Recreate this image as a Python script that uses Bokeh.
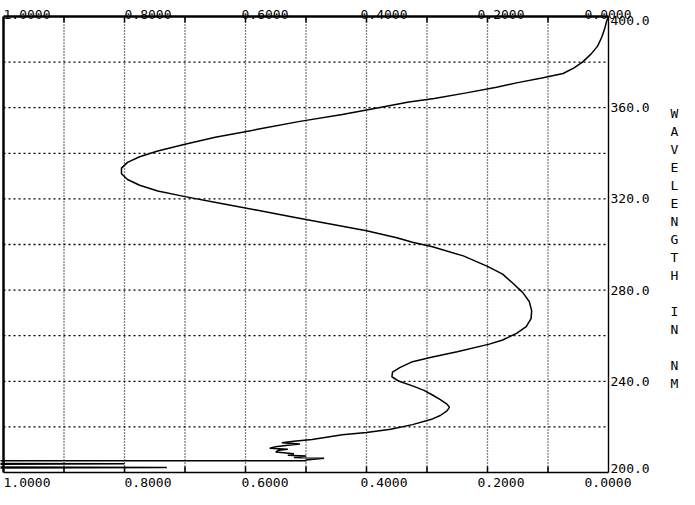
from bokeh.plotting import figure
from bokeh.models import Range1d
from bokeh.embed import file_html
from bokeh.resources import INLINE

# ---- data ----
wavelength_nm = [400, 398, 395, 391, 387, 383.5, 380, 377.5, 375, 373, 371, 369,
                 366.5, 364, 362.5, 360, 357, 354, 350.5, 347, 344, 341, 338.5,
                 336, 333.5, 331, 328.5, 326, 323.5, 321, 318, 315, 312, 309, 306,
                 303, 301, 299, 295, 290.4, 287, 283, 279, 275, 271, 267.5, 264,
                 261, 258, 256.3, 253, 250.7, 248.6, 246, 244, 242, 240, 238, 236,
                 234, 232, 230, 228.6, 227, 225, 223.5, 221, 219, 217.5, 216.6,
                 214.5, 213.7, 213, 212.5, 212, 211.3, 210.6, 210.2, 209.8, 209,
                 208.2, 207.6, 207.2, 206.6, 206.2, 205.5, 205.1, 205.1, 204.0,
                 203.8, 203.6, 202.4, 202.2, 202.0]
absorbance = [0.0, 0.003, 0.006, 0.011, 0.018, 0.029, 0.043, 0.057, 0.075, 0.11,
              0.15, 0.185, 0.235, 0.288, 0.33, 0.38, 0.44, 0.51, 0.58, 0.65, 0.70,
              0.745, 0.775, 0.795, 0.805, 0.805, 0.795, 0.775, 0.745, 0.70, 0.64,
              0.58, 0.52, 0.46, 0.40, 0.35, 0.324, 0.291, 0.24, 0.20, 0.175, 0.158,
              0.142, 0.131, 0.127, 0.128, 0.136, 0.152, 0.176, 0.197, 0.25, 0.291,
              0.324, 0.345, 0.357, 0.358, 0.346, 0.324, 0.305, 0.291, 0.278, 0.267,
              0.263, 0.267, 0.278, 0.291, 0.324, 0.36, 0.40, 0.44, 0.49, 0.52,
              0.54, 0.51, 0.53, 0.55, 0.56, 0.53, 0.545, 0.55, 0.52, 0.53, 0.50,
              0.52, 0.47, 0.50, 0.50, 1.05, 1.05, 0.80, 1.05, 1.05, 0.73, 1.05]

x_label_values = [1.0, 0.8, 0.6, 0.4, 0.2, 0.0]
x_label_texts = ["1.0000", "0.8000", "0.6000", "0.4000", "0.2000", "0.0000"]
x_grid_values = [0.1, 0.2, 0.3, 0.4, 0.5, 0.6, 0.7, 0.8, 0.9]
y_label_values = [400, 360, 320, 280, 240, 200]
y_label_texts = ["400.0", "360.0", "320.0", "280.0", "240.0", "200.0"]
y_grid_values = [220, 240, 260, 280, 300, 320, 340, 360, 380]
x_lo, x_hi = 0.0, 1.0
y_lo, y_hi = 200, 400
axis_title = "WAVELENGTH IN NM"

# ---- layout / style ----
W, H = 679, 489
FRAME_L, FRAME_R, FRAME_T, FRAME_B = 3, 608, 16, 472     # plot box in canvas px
FONT = "DejaVu Sans Mono"
FS = "13px"
x_label_shift_px = [0, 0, -4, -6, -10, -24]   # plotter label placement
y_label_shift_px = [4, 0, 0, 0, 0, -4]

xpp = (x_hi - x_lo) / (FRAME_R - FRAME_L)
ypp = (y_hi - y_lo) / (FRAME_B - FRAME_T)
x_range = Range1d(x_hi + FRAME_L * xpp, x_lo - (W - FRAME_R) * xpp)
y_range = Range1d(y_lo - (H - FRAME_B) * ypp, y_hi + FRAME_T * ypp)

p = figure(width=W, height=H, x_range=x_range, y_range=y_range,
           output_backend="svg", toolbar_location=None,
           x_axis_location=None, y_axis_location=None,
           min_border=0, min_border_left=0, min_border_right=0,
           min_border_top=0, min_border_bottom=0)
p.title.visible = False
p.background_fill_color = "white"
p.border_fill_color = "white"
p.outline_line_color = None
p.xgrid.visible = False
p.ygrid.visible = False

n_x = len(x_grid_values)
n_y = len(y_grid_values)

# dotted grid lines
p.segment(x0=x_grid_values, y0=[y_lo] * n_x, x1=x_grid_values, y1=[y_hi] * n_x,
          line_color="black", line_dash="1 2", line_width=1.3)
p.segment(x0=[x_hi] * n_y, y0=y_grid_values, x1=[x_lo] * n_y, y1=y_grid_values,
          line_color="black", line_dash="2 3", line_width=1.3)

# plot box: heavy top and left edges, lighter bottom and right
p.segment(x0=[x_hi, x_hi], y0=[y_hi, y_lo], x1=[x_lo, x_hi], y1=[y_hi, y_hi],
          line_color="black", line_width=2.5)
p.segment(x0=[x_hi, x_lo], y0=[y_lo, y_lo], x1=[x_lo, x_lo], y1=[y_lo, y_hi],
          line_color="black", line_width=1.4)

# inward tick marks on top and bottom edges
p.ray(x=x_grid_values, y=[y_hi] * n_x, length=6, length_units="screen",
      angle=-90, angle_units="deg", line_color="black", line_width=1.5)
p.ray(x=x_grid_values, y=[y_lo] * n_x, length=6, length_units="screen",
      angle=90, angle_units="deg", line_color="black", line_width=1.5)

# curve
p.line(absorbance, wavelength_nm, line_color="black", line_width=1.5)

# x labels (top and bottom)
n_l = len(x_label_values)
p.text(x=x_label_values, y=[y_hi] * n_l, text=x_label_texts, x_offset=x_label_shift_px,
       y_offset=-2, text_align="left", text_baseline="alphabetic",
       text_font={"value": FONT}, text_font_size=FS, text_color="black")
p.text(x=x_label_values, y=[y_lo] * n_l, text=x_label_texts, x_offset=x_label_shift_px,
       y_offset=10, text_align="left", text_baseline="alphabetic",
       text_font={"value": FONT}, text_font_size=FS, text_color="black")

# wavelength labels on the right edge
p.text(x=[x_lo] * len(y_label_values), y=y_label_values, text=y_label_texts,
       x_offset=2, y_offset=y_label_shift_px, text_align="left", text_baseline="middle",
       text_font={"value": FONT}, text_font_size=FS, text_color="black")

# vertical title, one letter per row
letters, rows = [], []
for i, ch in enumerate(axis_title):
    if ch != " ":
        letters.append(ch)
        rows.append(i)
p.text(x=[x_lo] * len(letters), y=[y_hi] * len(letters), text=letters,
       x_offset=66, y_offset=[97 + 18 * r for r in rows],
       text_align="center", text_baseline="middle",
       text_font={"value": FONT}, text_font_size=FS, text_color="black")

open("out.html", "w").write(file_html(p, INLINE))
